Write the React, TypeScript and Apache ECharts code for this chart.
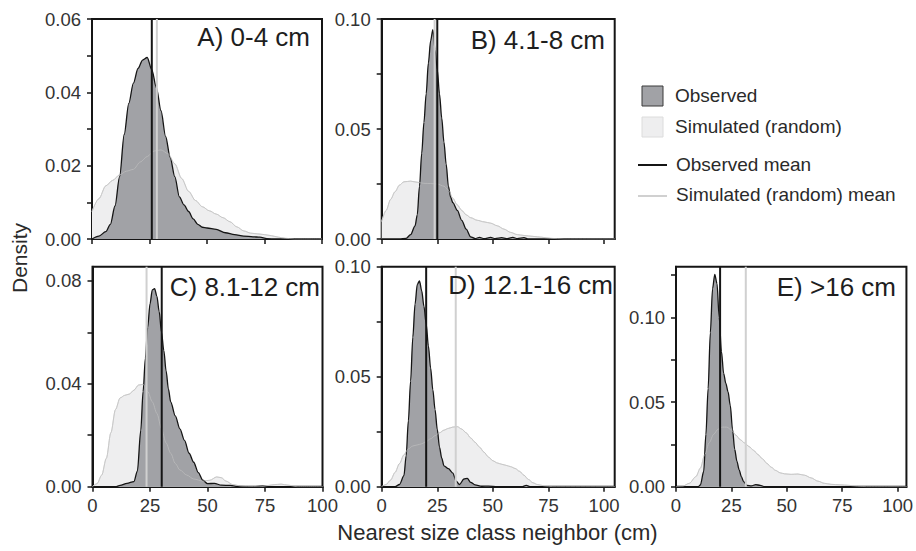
import React, { useEffect, useRef } from "react";
import * as echarts from "echarts";

const FONT = "'Liberation Sans', Arial, Helvetica, sans-serif";

// ---- Panel titles and tick values ----
const panelTitles = ["A) 0-4 cm", "B) 4.1-8 cm", "C) 8.1-12 cm", "D) 12.1-16 cm", "E) >16 cm"];
const xTicks = [0, 25, 50, 75, 100];
const yTicksA = [0, 0.01, 0.02, 0.03, 0.04, 0.05, 0.06];
const yLabelsA = [0, 0.02, 0.04, 0.06];
const yTicksB = [0, 0.025, 0.05, 0.075, 0.1];
const yLabelsB = [0, 0.05, 0.1];
const yTicksC = [0, 0.02, 0.04, 0.06, 0.08];
const yLabelsC = [0, 0.04, 0.08];
const yTicksD = [0, 0.025, 0.05, 0.075, 0.1];
const yLabelsD = [0, 0.05, 0.1];
const yTicksE = [0, 0.025, 0.05, 0.075, 0.1, 0.125];
const yLabelsE = [0, 0.05, 0.1];

// ---- Density curves (x in cm, y density) ----
const obsAX = [0, 3, 6, 8, 10, 12, 14, 16, 18, 20, 22, 24, 26, 28, 30, 32, 34, 36, 38, 40, 42, 44, 46, 48, 50, 54, 58, 62, 66, 70, 73, 76, 80, 100];
const obsAY = [0, 0.0008, 0.002, 0.004, 0.009, 0.017, 0.0285, 0.037, 0.0425, 0.0465, 0.0488, 0.0495, 0.0462, 0.0413, 0.035, 0.028, 0.0222, 0.017, 0.0115, 0.0093, 0.0075, 0.0055, 0.004, 0.0032, 0.003, 0.0026, 0.0017, 0.0012, 0.0008, 0.0006, 0.0005, 0.0001, 0, 0];
const simAX = [0, 3, 6, 9, 12, 15, 18, 21, 24, 27, 30, 33, 36, 39, 42, 45, 48, 51, 54, 57, 60, 63, 66, 69, 72, 75, 78, 81, 84, 88, 100];
const simAY = [0.0075, 0.011, 0.0145, 0.016, 0.0175, 0.0185, 0.019, 0.021, 0.0225, 0.024, 0.0243, 0.0233, 0.0205, 0.0165, 0.013, 0.0105, 0.0088, 0.0077, 0.0068, 0.0058, 0.0047, 0.0033, 0.0022, 0.0016, 0.0014, 0.0012, 0.0009, 0.0005, 0.0002, 0, 0];

const obsBX = [0, 8, 11, 13, 15, 16, 17, 18, 19, 20, 21, 22, 23, 24, 25, 26, 27, 28, 29, 30, 31, 32, 34, 36, 38, 40, 42, 44, 46, 49, 51, 54, 56, 59, 61, 64, 66, 104.8];
const obsBY = [0, 0, 0.0003, 0.002, 0.006, 0.011, 0.024, 0.039, 0.053, 0.066, 0.08, 0.09, 0.0952, 0.086, 0.077, 0.066, 0.055, 0.044, 0.034, 0.024, 0.019, 0.0165, 0.013, 0.0085, 0.0045, 0.001, 0.0002, 0.0007, 0.0002, 0.0007, 0.0002, 0.0006, 0.0002, 0.0007, 0.0002, 0.0006, 0, 0];
const simBX = [0, 2, 4, 6, 8, 10, 13, 16, 19, 22, 25, 28, 30, 32, 34, 36, 38, 40, 43, 46, 49, 52, 55, 58, 61, 64, 68, 72, 76, 82, 104.8];
const simBY = [0.008, 0.013, 0.018, 0.0215, 0.0245, 0.026, 0.0263, 0.0258, 0.0253, 0.0252, 0.025, 0.024, 0.0222, 0.0185, 0.0155, 0.013, 0.011, 0.0097, 0.0085, 0.0078, 0.0072, 0.006, 0.0045, 0.003, 0.002, 0.0016, 0.0012, 0.0008, 0.0003, 0, 0];

const obsCX = [0, 10, 12, 15, 18, 19.5, 21, 22, 23, 24, 25, 26, 27, 28, 29, 30, 31, 32, 33, 34, 36, 38, 40, 42, 44, 46, 48, 50, 53, 56, 60, 63, 70, 74, 77, 100];
const obsCY = [0, 0, 0.0005, 0.0013, 0.002, 0.006, 0.022, 0.037, 0.05, 0.062, 0.071, 0.0765, 0.077, 0.074, 0.068, 0.06, 0.053, 0.045, 0.038, 0.033, 0.0275, 0.0225, 0.018, 0.013, 0.0095, 0.0055, 0.0025, 0.0012, 0.0013, 0.0006, 0.0005, 0.0001, 0, 0.0003, 0, 0];
const simCX = [0, 2, 4, 6, 8, 10, 12, 14, 16, 18, 20, 22, 24, 26, 28, 30, 32, 34, 36, 38, 41, 44, 48, 51, 54, 56, 58, 61, 65, 70, 75, 79, 82, 85, 89, 100];
const simCY = [0, 0.0012, 0.0045, 0.011, 0.021, 0.03, 0.0345, 0.0355, 0.036, 0.0375, 0.0395, 0.0398, 0.037, 0.033, 0.0285, 0.0225, 0.017, 0.013, 0.009, 0.0065, 0.0045, 0.003, 0.0022, 0.0025, 0.0038, 0.0035, 0.0022, 0.0008, 0.0002, 0.0001, 0.0003, 0.0008, 0.001, 0.0006, 0, 0];

const obsDX = [0, 6, 8, 10, 11, 12, 13, 14, 15, 16, 17, 18, 19, 20, 21, 22, 23, 24, 25, 26, 27, 28, 30, 32, 33.5, 35, 37, 38.5, 40, 42, 45, 48, 52, 63, 65, 67, 104.8];
const obsDY = [0, 0, 0.001, 0.005, 0.014, 0.03, 0.048, 0.068, 0.083, 0.092, 0.0935, 0.089, 0.082, 0.074, 0.064, 0.054, 0.044, 0.035, 0.026, 0.018, 0.013, 0.0095, 0.0082, 0.0062, 0.0025, 0.001, 0.0035, 0.0038, 0.002, 0.0008, 0.0002, 0.0003, 0, 0, 0.0006, 0, 0];
const simDX = [0, 2, 4, 6, 8, 10, 12, 14, 16, 18, 20, 22, 24, 26, 28, 30, 32, 34, 36, 38, 40, 42, 44, 46, 48, 50, 52, 54, 56, 58, 60, 62, 64, 66, 68, 70, 73, 77, 104.8];
const simDY = [0, 0.001, 0.003, 0.0065, 0.0105, 0.0145, 0.0172, 0.0185, 0.019, 0.0195, 0.0205, 0.0218, 0.0232, 0.0245, 0.0257, 0.0265, 0.0271, 0.0273, 0.0262, 0.0245, 0.0222, 0.0202, 0.018, 0.0157, 0.0135, 0.0118, 0.0108, 0.0102, 0.0097, 0.0091, 0.0083, 0.007, 0.0052, 0.0033, 0.0018, 0.001, 0.0004, 0, 0];

const obsEX = [0, 10, 11, 12.5, 13.5, 14.5, 15.5, 16.5, 17.5, 18.5, 19.5, 20.5, 21.5, 22.5, 23.5, 24.5, 25.5, 26.5, 27.5, 28.5, 29.5, 30.5, 32, 34, 36, 38, 40, 104];
const obsEY = [0, 0, 0.001, 0.009, 0.031, 0.058, 0.091, 0.117, 0.1255, 0.12, 0.1, 0.08, 0.067, 0.061, 0.056, 0.048, 0.034, 0.022, 0.015, 0.01, 0.006, 0.003, 0.0008, 0.0005, 0.0012, 0.0008, 0, 0];
const simEX = [0, 3, 6, 9, 11, 13, 15, 17, 19, 21, 23, 25, 27, 29, 31, 33, 35, 37, 39, 41, 43, 45, 47, 49, 52, 55, 58, 61, 64, 67, 70, 74, 78, 82, 86, 104];
const simEY = [0, 0.0003, 0.002, 0.006, 0.011, 0.019, 0.026, 0.031, 0.034, 0.0352, 0.0352, 0.0335, 0.0305, 0.0278, 0.0258, 0.0237, 0.0215, 0.019, 0.0165, 0.0138, 0.0115, 0.0096, 0.0082, 0.0076, 0.0073, 0.0075, 0.0068, 0.0052, 0.0033, 0.002, 0.0014, 0.0011, 0.0008, 0.0003, 0, 0];

// ---- Means ----
const observedMeans = [26.0, 25.0, 30.1, 20.0, 19.9];
const simulatedMeans = [28.2, 23.8, 23.5, 33.3, 31.5];

// ---- Layout (pixels) ----
const grids = [
  { left: 92, top: 19, width: 230, height: 220, xMax: 100, yMax: 0.06, tx: 310, ty: 37, bottomRow: false },
  { left: 381.7, top: 19, width: 233, height: 220, xMax: 104.8, yMax: 0.1, tx: 605, ty: 40, bottomRow: false },
  { left: 92.5, top: 266.7, width: 230, height: 220, xMax: 100, yMax: 0.0855, tx: 320, ty: 287, bottomRow: true },
  { left: 381.7, top: 266.7, width: 233, height: 220, xMax: 104.8, yMax: 0.1, tx: 613, ty: 285, bottomRow: true },
  { left: 676, top: 266.7, width: 230.6, height: 220, xMax: 104, yMax: 0.13, tx: 896, ty: 287, bottomRow: true },
];

const OBS_FILL = "#a1a2a6";
const SIM_FILL = "#eeeeef";
const SIM_LINE = "#d2d2d2";
const DARK = "#151515";
const TEXT = "#2a2a2a";

const zip = (xs: number[], ys: number[]) => xs.map((x, i) => [x, ys[i]]);

export default function App() {
  const ref = useRef<HTMLDivElement>(null);
  useEffect(() => {
    if (!ref.current) return;
    const chart = echarts.init(ref.current, null, { renderer: "svg" });

    const obsX = [obsAX, obsBX, obsCX, obsDX, obsEX];
    const obsY = [obsAY, obsBY, obsCY, obsDY, obsEY];
    const simX = [simAX, simBX, simCX, simDX, simEX];
    const simY = [simAY, simBY, simCY, simDY, simEY];
    const yTicks = [yTicksA, yTicksB, yTicksC, yTicksD, yTicksE];
    const yLabels = [yLabelsA, yLabelsB, yLabelsC, yLabelsD, yLabelsE];

    const series: any[] = [];
    grids.forEach((g, i) => {
      const common = { xAxisIndex: i, yAxisIndex: i, type: "line", symbol: "none", showSymbol: false, silent: true, smooth: 0.3, smoothMonotone: "x" };
      series.push({ ...common, data: zip(simX[i], simY[i]), lineStyle: { color: SIM_LINE, width: 1 }, areaStyle: { color: SIM_FILL, opacity: 1 }, z: 1 });
      series.push({ ...common, data: zip(obsX[i], obsY[i]), lineStyle: { color: DARK, width: 1.3 }, areaStyle: { color: OBS_FILL, opacity: 1 }, z: 2 });
      series.push({ ...common, data: zip(simX[i], simY[i]), lineStyle: { color: "#c2c2c2", width: 0.8, opacity: 0.8 }, z: 3 });
      series.push({ xAxisIndex: i, yAxisIndex: i, type: "line", symbol: "none", silent: true, data: [[simulatedMeans[i], 0], [simulatedMeans[i], g.yMax]], lineStyle: { color: "#d0d0d0", width: 2 }, z: 4 });
      series.push({ xAxisIndex: i, yAxisIndex: i, type: "line", symbol: "none", silent: true, data: [[observedMeans[i], 0], [observedMeans[i], g.yMax]], lineStyle: { color: DARK, width: 2 }, z: 5 });
    });

    const legendText = (text: string, x: number, y: number) => ({
      type: "text", x, y, style: { text, fontSize: 19, fontFamily: FONT, fill: TEXT, align: "left", verticalAlign: "middle" },
    });

    const graphic: any[] = [
      ...grids.map((g, i) => ({
        type: "text", x: g.tx, y: g.ty, z: 10,
        style: { text: panelTitles[i], fontSize: 26, fontFamily: FONT, fill: "#1e1e1e", align: "right", verticalAlign: "middle" },
      })),
      { type: "rect", shape: { x: 642, y: 86, width: 21, height: 20 }, style: { fill: OBS_FILL, stroke: "#3a3a3a", lineWidth: 1 } },
      legendText("Observed", 675, 95),
      { type: "rect", shape: { x: 642, y: 117, width: 21, height: 20 }, style: { fill: SIM_FILL, stroke: "#dcdcdc", lineWidth: 1 } },
      legendText("Simulated (random)", 675, 126),
      { type: "line", shape: { x1: 638, y1: 165, x2: 667, y2: 165 }, style: { stroke: DARK, lineWidth: 2 } },
      legendText("Observed mean", 676, 164),
      { type: "line", shape: { x1: 638, y1: 196, x2: 667, y2: 196 }, style: { stroke: "#d0d0d0", lineWidth: 2 } },
      legendText("Simulated (random) mean", 676, 194),
      {
        type: "text", x: 19, y: 258, rotation: Math.PI / 2,
        style: { text: "Density", fontSize: 21, fontFamily: FONT, fill: TEXT, align: "center", verticalAlign: "middle" },
      },
      {
        type: "text", x: 497.5, y: 532,
        style: { text: "Nearest size class neighbor (cm)", fontSize: 22, fontFamily: FONT, fill: TEXT, align: "center", verticalAlign: "middle" },
      },
    ];

    const option: any = {
      animation: false,
      backgroundColor: "#ffffff",
      grid: grids.map((g) => ({ left: g.left, top: g.top, width: g.width, height: g.height, show: true, borderColor: DARK, borderWidth: 2, backgroundColor: "transparent", containLabel: false })),
      xAxis: grids.map((g, i) => ({
        type: "value", gridIndex: i, min: 0, max: g.xMax,
        axisLine: { show: true, onZero: false, lineStyle: { color: DARK, width: 2 } },
        axisTick: { show: true, length: 5, customValues: xTicks, lineStyle: { color: DARK, width: 1.5 } },
        axisLabel: { show: g.bottomRow, customValues: xTicks, fontSize: 18.5, fontFamily: FONT, color: "#333", margin: 9 },
        splitLine: { show: false },
      })),
      yAxis: grids.map((g, i) => ({
        type: "value", gridIndex: i, min: 0, max: g.yMax,
        axisLine: { show: true, onZero: false, lineStyle: { color: DARK, width: 2 } },
        axisTick: { show: true, length: 5, customValues: yTicks[i], lineStyle: { color: DARK, width: 1.5 } },
        axisLabel: { show: true, customValues: yLabels[i], fontSize: 18.5, fontFamily: FONT, color: "#333", margin: 11, formatter: (v: number) => v.toFixed(2) },
        splitLine: { show: false },
      })),
      series,
      graphic,
    };
    chart.setOption(option);
    return () => chart.dispose();
  }, []);

  return <div ref={ref} style={{ position: "fixed", left: 0, top: 0, width: 916, height: 551, background: "#fff" }} />;
}
